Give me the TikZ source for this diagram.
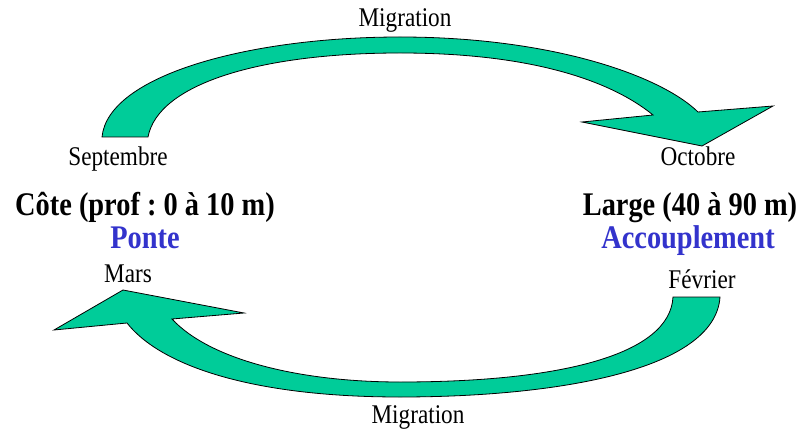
\documentclass[tikz,border=0pt]{standalone}
\usepackage{fontspec}
\setmainfont[FakeStretch=0.86]{Liberation Serif}
\frenchspacing
\definecolor{arrowgreen}{RGB}{0,204,153}
\definecolor{phaseblue}{RGB}{51,51,204}

\tikzset{
  bigarrow/.style={fill=arrowgreen, draw=black, line width=0.8pt, line join=miter},
  month/.style={anchor=base, inner sep=0pt, font=\fontsize{27}{32}\selectfont},
  zone/.style={anchor=base, inner sep=0pt, font=\fontsize{33}{38}\selectfont\bfseries},
  phase/.style={zone, text=phaseblue}
}

\begin{document}
\begin{tikzpicture}[x=1pt, y=-1pt]
    \useasboundingbox (0,0) rectangle (802,430);

    % Upper arrow: coast -> offshore
    \draw[bigarrow] (102,137) .. controls (108,75) and (250,37) .. (400,37)
        .. controls (550,37) and (660,75) .. (698,112)
        -- (773,106) -- (702,146) -- (582,122) -- (653,115)
        .. controls (610,80) and (530,53) .. (400,53)
        .. controls (260,53) and (158,84) .. (148,137) -- cycle;

    % Lower arrow: offshore -> coast
    \draw[bigarrow] (720,297) .. controls (715,372) and (550,397) .. (400,397)
        .. controls (250,397) and (160,365) .. (127,323)
        -- (54,330) -- (123,290) -- (244,313) -- (172,319)
        .. controls (210,360) and (300,382) .. (400,382)
        .. controls (560,382) and (670,355) .. (673,297) -- cycle;

    % Labels on the arrows
    \node[month] (migtop) at (405,27) {Migration};
    \node[month] (migbot) at (418,423) {Migration};

    % Months
    \node[month] (sept) at (118,166) {Septembre};
    \node[month] (oct) at (698,166) {Octobre};
    \node[month] (mars) at (128,282) {Mars};
    \node[month] (fev) at (702,288) {Février};

    % Zones and phases
    \node[zone] (cote) at (145,216) {Côte (prof : 0 à 10 m)};
    \node[zone] (large) at (690,216) {Large (40 à 90 m)};
    \node[phase] (ponte) at (145,248) {Ponte};
    \node[phase] (accoupl) at (688,248) {Accouplement};
\end{tikzpicture}
\end{document}
